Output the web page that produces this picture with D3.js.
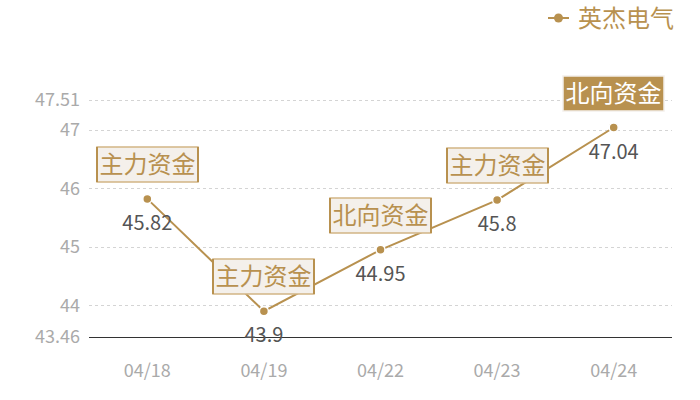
<!DOCTYPE html>
<html>
<head>
<meta charset="utf-8">
<script src="https://cdn.jsdelivr.net/npm/d3@7"></script>
<style>
  body { margin: 0; background: #fff; }
  svg { font-family: "Noto Sans CJK SC", "Noto Sans", sans-serif; }
</style>
</head>
<body>
<div id="chart"></div>
<script>
const width = 700;
const height = 400;

const dates = ["04/18", "04/19", "04/22", "04/23", "04/24"];
const prices = [45.82, 43.9, 44.95, 45.8, 47.04];
const flags = ["主力资金", "主力资金", "北向资金", "主力资金", "北向资金"];
const yTicks = [43.46, 44, 45, 46, 47, 47.51];
const seriesName = "英杰电气";

const gold = "#b8914f";

const svg = d3.select("#chart")
    .append("svg")
    .attr("width", width)
    .attr("height", height);

const x = d3.scaleBand()
    .domain(dates)
    .range([89, 672]);

const y = d3.scaleLinear()
    .domain([43.46, 47.51])
    .range([337, 100]);

// grid
svg.append("g")
    .selectAll("line")
    .data(yTicks.filter(d => d !== 43.46))
    .join("line")
    .attr("x1", 89)
    .attr("x2", 672)
    .attr("y1", d => Math.round(y(d)) + 0.5)
    .attr("y2", d => Math.round(y(d)) + 0.5)
    .attr("stroke", "#d4d4d4")
    .attr("stroke-dasharray", "3,3");

// y labels
svg.append("g")
    .selectAll("text")
    .data(yTicks)
    .join("text")
    .attr("x", 80)
    .attr("y", d => y(d))
    .attr("dy", "0.36em")
    .attr("text-anchor", "end")
    .attr("fill", "#aaaaaa")
    .attr("font-size", 18)
    .text(d => d);

// x axis
svg.append("line")
    .attr("x1", 89)
    .attr("x2", 672)
    .attr("y1", Math.round(y(43.46)) + 0.5)
    .attr("y2", Math.round(y(43.46)) + 0.5)
    .attr("stroke", "#333")
    .attr("stroke-width", 1);

svg.append("g")
    .selectAll("text")
    .data(dates)
    .join("text")
    .attr("x", d => x(d) + x.bandwidth() / 2)
    .attr("y", 371)
    .attr("dy", "0.36em")
    .attr("text-anchor", "middle")
    .attr("fill", "#aaaaaa")
    .attr("font-size", 18)
    .text(d => d);

const pts = dates.map((d, i) => ({ date: d, v: prices[i], flag: flags[i], i: i }));
const cx = d => x(d.date) + x.bandwidth() / 2;

const line = d3.line()
    .x(cx)
    .y(d => y(d.v));

svg.append("path")
    .datum(pts)
    .attr("d", line)
    .attr("fill", "none")
    .attr("stroke", gold)
    .attr("stroke-width", 2);

svg.append("g")
    .selectAll("circle")
    .data(pts)
    .join("circle")
    .attr("cx", cx)
    .attr("cy", d => y(d.v))
    .attr("r", 4.5)
    .attr("fill", gold)
    .attr("stroke", "#fff")
    .attr("stroke-width", 1.5);

// value labels
svg.append("g")
    .selectAll("text")
    .data(pts)
    .join("text")
    .attr("x", cx)
    .attr("y", d => y(d.v) + 24)
    .attr("dy", "0.36em")
    .attr("text-anchor", "middle")
    .attr("fill", "#555555")
    .attr("font-size", 20)
    .text(d => d.v);

// flag boxes
const boxW = 101, boxH = 35;
const last = pts.length - 1;
const flagG = svg.append("g")
    .selectAll("g")
    .data(pts)
    .join("g")
    .attr("transform", d => `translate(${Math.round(cx(d) - boxW / 2)},${Math.round(y(d.v) - 17 - boxH)})`);

flagG.append("rect")
    .attr("width", boxW)
    .attr("height", boxH)
    .attr("fill", d => d.i === last ? gold : "#f4f0eb")
    .attr("stroke", d => d.i === last ? "#f4f0eb" : "#d2b585")
    .attr("stroke-width", 1.5);

flagG.filter(d => d.i !== last)
    .append("line")
    .attr("x1", 0).attr("x2", 0)
    .attr("y1", 0).attr("y2", boxH)
    .attr("stroke", gold).attr("stroke-width", 2);

flagG.filter(d => d.i !== last)
    .append("line")
    .attr("x1", boxW).attr("x2", boxW)
    .attr("y1", 0).attr("y2", boxH)
    .attr("stroke", gold).attr("stroke-width", 2);

flagG.append("text")
    .attr("x", boxW / 2)
    .attr("y", boxH / 2)
    .attr("dy", "0.36em")
    .attr("text-anchor", "middle")
    .attr("fill", d => d.i === last ? "#ffffff" : gold)
    .attr("font-size", 24)
    .text(d => d.flag);

// legend
const lg = svg.append("g").attr("transform", "translate(548,18)");
lg.append("line")
    .attr("x1", 0).attr("x2", 21)
    .attr("stroke", gold).attr("stroke-width", 2);
lg.append("circle")
    .attr("cx", 10.5).attr("r", 4.5)
    .attr("fill", gold);
lg.append("text")
    .attr("x", 30)
    .attr("dy", "0.36em")
    .attr("fill", gold)
    .attr("font-size", 24)
    .text(seriesName);
</script>
</body>
</html>
